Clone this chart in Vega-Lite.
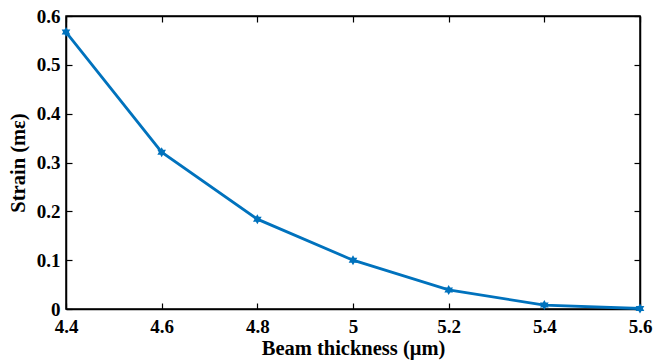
{
  "$schema": "https://vega.github.io/schema/vega-lite/v6.json",
  "width": 574,
  "height": 293,
  "autosize": {"type": "none"},
  "padding": {"left": 66, "top": 16, "right": 22, "bottom": 52},
  "background": "white",
  "config": {
    "view": {"stroke": "black", "strokeWidth": 1.5},
    "axis": {
      "labelFont": "Liberation Serif",
      "labelFontWeight": "bold",
      "labelFontSize": 19,
      "labelColor": "black",
      "titleFont": "Liberation Serif",
      "titleFontWeight": "bold",
      "titleFontSize": 20.5,
      "titleColor": "black",
      "domainColor": "black",
      "domainWidth": 1.5,
      "tickColor": "black",
      "tickWidth": 1.2,
      "tickSize": -6,
      "grid": false
    }
  },
  "data": {
    "values": [
      {"t": 4.4, "s": 0.567},
      {"t": 4.6, "s": 0.321},
      {"t": 4.8, "s": 0.184},
      {"t": 5.0, "s": 0.100},
      {"t": 5.2, "s": 0.039},
      {"t": 5.4, "s": 0.008},
      {"t": 5.6, "s": 0.001}
    ]
  },
  "layer": [
    {
      "mark": {"type": "line", "color": "#0072BD", "strokeWidth": 2.8, "point": {"filled": true, "color": "#0072BD", "size": 100, "shape": "M0,-1L0.289,-0.5L0.866,-0.5L0.577,0L0.866,0.5L0.289,0.5L0,1L-0.289,0.5L-0.866,0.5L-0.577,0L-0.866,-0.5L-0.289,-0.5Z"}},
      "encoding": {
        "x": {"field": "t", "type": "quantitative", "scale": {"domain": [4.4, 5.6], "nice": false, "zero": false},
              "axis": {"title": "Beam thickness (μm)", "values": [4.4, 4.6, 4.8, 5.0, 5.2, 5.4, 5.6], "labelExpr": "datum.value === 5 ? '5' : format(datum.value, '.1f')", "labelPadding": 14, "titlePadding": 2, "labelFlush": false}},
        "y": {"field": "s", "type": "quantitative", "scale": {"domain": [0, 0.6], "nice": false},
              "axis": {"title": "Strain (mε)", "values": [0, 0.1, 0.2, 0.3, 0.4, 0.5, 0.6], "labelExpr": "datum.value === 0 ? '0' : format(datum.value, '.1f')", "labelPadding": 12, "titlePadding": 8, "labelFlush": false}}
      }
    },
    {
      "mark": {"type": "point", "opacity": 0},
      "encoding": {
        "x": {"field": "t", "type": "quantitative", "axis": {"orient": "top", "labels": false, "title": null, "values": [4.4, 4.6, 4.8, 5.0, 5.2, 5.4, 5.6]}},
        "y": {"field": "s", "type": "quantitative", "axis": {"orient": "right", "labels": false, "title": null, "values": [0, 0.1, 0.2, 0.3, 0.4, 0.5, 0.6]}}
      }
    }
  ],
  "resolve": {"axis": {"x": "independent", "y": "independent"}}
}
